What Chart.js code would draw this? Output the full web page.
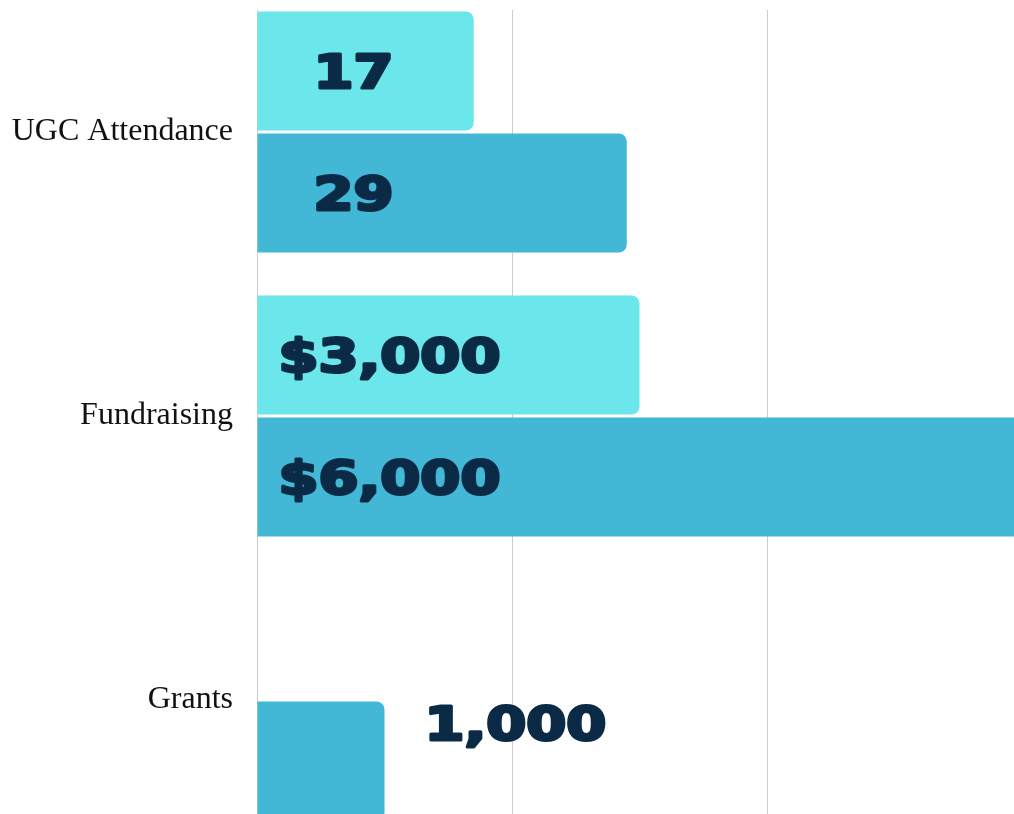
<!DOCTYPE html>
<html>
<head>
<meta charset="utf-8">
<script src="https://cdn.jsdelivr.net/npm/chart.js@4.4.1/dist/chart.umd.min.js"></script>
<style>
    html, body { margin: 0; padding: 0; background: #fff; overflow: hidden; }
    body { width: 1014px; height: 814px; position: relative; }
    #wrap { position: absolute; left: 0; top: -10px; width: 1022px; height: 852px; }
    #topMask { position: absolute; left: 0; top: 0; width: 1014px; height: 10px; background: #fff; z-index: 2; }
</style>
</head>
<body>
<div id="wrap"><canvas id="impactChart"></canvas></div>
<div id="topMask"></div>
<script>
// Chart data
const categories = ['UGC Attendance', 'Fundraising', 'Grants'];
const previousValues = [1700, 3000, null];
const previousLabels = ['17', '$3,000', ''];
const currentValues = [2900, 6000, 1000];
const currentLabels = ['29', '$6,000', '1,000'];
const xTicks = [0, 2000, 4000, 6000];

const colors = { light: '#6be6ea', dark: '#42b7d6', text: '#0b2a45', grid: '#cccccc' };

// Bold, extended looking value labels drawn on/next to each bar
const valueLabelPlugin = {
    id: 'valueLabels',
    afterDatasetsDraw(chart) {
        const ctx = chart.ctx;
        const stretch = 1.25;
        const fontSize = 46;
        const capH = fontSize * 0.729;
        ctx.save();
        ctx.font = 'bold ' + fontSize + 'px "DejaVu Sans"';
        ctx.fillStyle = colors.text;
        ctx.strokeStyle = colors.text;
        ctx.lineWidth = 3;
        ctx.lineJoin = 'round';
        ctx.textAlign = 'center';
        ctx.textBaseline = 'alphabetic';
        chart.data.datasets.forEach((ds, di) => {
            const meta = chart.getDatasetMeta(di);
            meta.data.forEach((bar, i) => {
                const txt = ds.valueLabels[i];
                if (!txt) return;
                const w = ctx.measureText(txt).width * stretch;
                const boxW = Math.max(w, 150);
                let left, cy;
                if (bar.x - bar.base >= w + 42) {
                    // fits inside the bar
                    left = bar.base + 21;
                    cy = bar.y;
                } else {
                    // goes after the bar end, near its top
                    left = bar.x + 40;
                    cy = bar.y - bar.height / 2 + capH * 0.65;
                }
                const cx = left + boxW / 2;
                ctx.save();
                ctx.translate(cx, cy + capH / 2);
                ctx.scale(stretch, 1);
                ctx.fillText(txt, 0, 0);
                ctx.strokeText(txt, 0, 0);
                ctx.restore();
            });
        });
        ctx.restore();
    }
};

const ctxChart = document.getElementById('impactChart');

new Chart(ctxChart, {
    type: 'bar',
    data: {
        labels: categories,
        datasets: [
            {
                label: 'Previous',
                data: previousValues,
                valueLabels: previousLabels,
                backgroundColor: colors.light,
                borderRadius: 8,
                borderSkipped: 'start',
                categoryPercentage: 0.86,
                barPercentage: 0.975
            },
            {
                label: 'Current',
                data: currentValues,
                valueLabels: currentLabels,
                backgroundColor: colors.dark,
                borderRadius: 8,
                borderSkipped: 'start',
                categoryPercentage: 0.86,
                barPercentage: 0.975
            }
        ]
    },
    options: {
        indexAxis: 'y',
        responsive: true,
        maintainAspectRatio: false,
        animation: false,
        layout: { padding: 0 },
        plugins: {
            legend: { display: false },
            tooltip: { enabled: false }
        },
        scales: {
            x: {
                min: xTicks[0],
                max: xTicks[xTicks.length - 1],
                afterBuildTicks(scale) {
                    scale.ticks = xTicks.map(v => ({ value: v }));
                },
                grid: { color: colors.grid, lineWidth: 1, drawTicks: false },
                border: { display: false },
                ticks: { display: false }
            },
            y: {
                grid: { display: false, drawTicks: false },
                border: { display: false },
                afterFit(scale) {
                    scale.width = 257;
                    scale.paddingTop = 0;
                    scale.paddingBottom = 0;
                },
                ticks: {
                    color: '#111111',
                    padding: 24,
                    font: { family: '"Liberation Serif", serif', size: 32 }
                }
            }
        }
    },
    plugins: [valueLabelPlugin]
});
</script>
</body>
</html>
